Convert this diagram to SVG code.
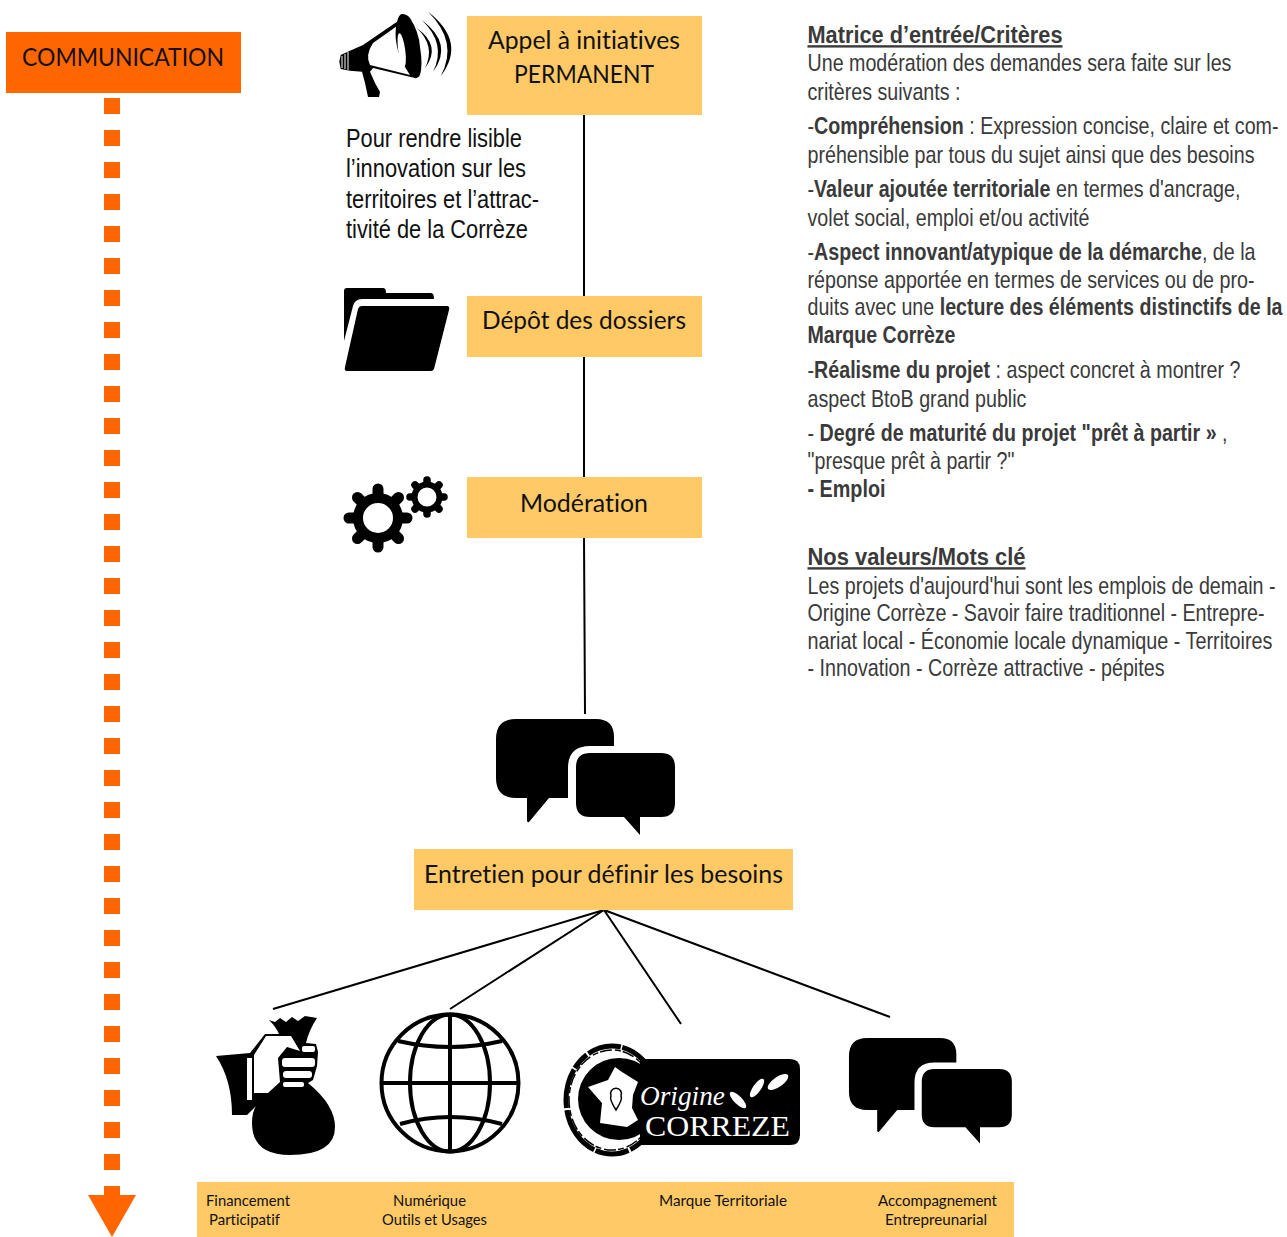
<svg xmlns="http://www.w3.org/2000/svg" width="1287" height="1237" viewBox="0 0 1287 1237">
<style>
.box{fill:#FFC966}
.lbl{font-family:Lato,"Open Sans",sans-serif;font-size:24.500px;fill:#111;font-variant-ligatures:none}
.sm{font-family:Lato,"Open Sans",sans-serif;font-size:15px;fill:#111;font-variant-ligatures:none}
.r{font-family:"Liberation Sans",Arial,sans-serif;font-size:24px;fill:#3a3a3a}
.h{font-weight:700;text-decoration:underline}
.l{font-family:"Liberation Sans",Arial,sans-serif;font-size:26px;fill:#111}
.c{stroke:#000;stroke-width:2;fill:none}
.b{font-weight:700}
</style>
<defs>
<g id="chat">
<path d="M516,719H596Q614,719 614,737V746H590Q568,746 568,768V798H549L529,822Q527,823 527,820V798H516Q496,798 496,778V739Q496,719 516,719Z"/>
<path d="M590,753H661Q675,753 675,767V803Q675,817 661,817H640V835L624,817H590Q576,817 576,803V767Q576,753 590,753Z"/>
</g>
</defs>
<rect width="1287" height="1237" fill="#fff"/>

<g id="connectors">
<path class="c" d="M584,115V296M584,357V477M584,538L585,714"/>
<path class="c" d="M604,910L273,1009M604,910L450,1009M604,910L681,1024M604,910L890,1017"/>
<path d="M112,98V1195" stroke="#FF6600" stroke-width="16" stroke-dasharray="16 16" fill="none"/>
<path d="M88,1195H136L112,1237Z" fill="#FF6600"/>
</g>

<g id="communication">
<rect x="6" y="32" width="235" height="61" fill="#FF6600"/>
<text class="lbl" x="22" y="66" textLength="202" lengthAdjust="spacingAndGlyphs">COMMUNICATION</text>
</g>

<g id="appel">
<rect class="box" x="467" y="16" width="235" height="99"/>
<text class="lbl" x="488" y="49" textLength="192" lengthAdjust="spacingAndGlyphs">Appel à initiatives</text>
<text class="lbl" x="514" y="83" textLength="140" lengthAdjust="spacingAndGlyphs">PERMANENT</text>
</g>

<g id="megaphone">
<path d="M339.300,61.700L340.700,55L350,50.700L363,45L397,21.700Q399,14 402,14Q407,14 410,18Q419,32 420,47Q423,65 420,75Q418,79 415,78L373,68L370,71.700L375,83L380,92L379,97H368L365,83L362,71.700L350,70.700L340.700,69Z"/>
<path d="M373,43L396,26.700Q393,50 410,75L370,65Q365,55 373,43Z" fill="#fff"/>
<ellipse cx="401.700" cy="50" rx="3.500" ry="17" transform="rotate(-8 401.700 50)" fill="#fff"/>
<path d="M342,56V68M345,54V69M348,52V70" stroke="#fff" stroke-width="1" fill="none"/>
<path d="M416.700,28Q442,46 425,68Q436,46 416.700,28ZM421.700,20Q454,44 433,71.700Q447,44 421.700,20ZM428,11.700Q467,42 440.700,76Q459,42 428,11.700Z"/>
</g>

<g id="intro">
<text class="l" x="346" y="147" textLength="176" lengthAdjust="spacingAndGlyphs">Pour rendre lisible</text>
<text class="l" x="346" y="177" textLength="180" lengthAdjust="spacingAndGlyphs">l’innovation sur les</text>
<text class="l" x="346" y="208" textLength="193" lengthAdjust="spacingAndGlyphs">territoires et l’attrac-</text>
<text class="l" x="346" y="238" textLength="182" lengthAdjust="spacingAndGlyphs">tivité de la Corrèze</text>
</g>

<g id="depot">
<rect class="box" x="467" y="296" width="235" height="61"/>
<text class="lbl" x="482" y="329" textLength="204" lengthAdjust="spacingAndGlyphs">Dépôt des dossiers</text>
<path d="M347,288H383Q386,288 386,293H431Q434,293 434,299H362Q355,299 353,306L344,341V291Q344,288 347,288Z"/>
<path d="M362,306H447Q450,306 449,310L434,369Q433,371 431,371H347Q344,371 345,367L358,309Q359,306 362,306Z"/>
</g>

<g id="moderation">
<rect class="box" x="467" y="477" width="235" height="61"/>
<text class="lbl" x="520" y="512" textLength="128" lengthAdjust="spacingAndGlyphs">Modération</text>
<g stroke="#000" stroke-linecap="round" fill="none">
<path stroke-width="11" d="M378,489V547M349,518H407M357.500,497.500L398.500,538.500M398.500,497.500L357.500,538.500"/>
<path stroke-width="7.500" d="M427,480V514M410,497H444M415,485L439,509M439,485L415,509"/>
</g>
<circle cx="378" cy="518" r="20" fill="#fff" stroke="#000" stroke-width="10"/>
<circle cx="427" cy="497" r="12.500" fill="#fff" stroke="#000" stroke-width="6"/>
</g>

<g id="chat-main"><use href="#chat"/></g>

<g id="entretien">
<rect class="box" x="414" y="849" width="379" height="61"/>
<text class="lbl" x="424" y="883" textLength="359" lengthAdjust="spacingAndGlyphs">Entretien pour définir les besoins</text>
</g>

<g id="moneybag">
<path d="M216,1056L250,1053L265,1034L279,1034Q276,1027 269,1020L275,1022L280,1018L286,1022L292,1017L298,1021L305,1016L317,1018Q309,1030 306,1043L316,1044L318,1052L317,1066L313,1080L308,1083Q335,1105 335,1127Q335,1155 290,1155Q252,1155 252,1123Q252,1112 256,1106L247,1115H232Q232,1080 216,1056Z"/>
<path d="M254,1055L266,1036H291L300,1051L287,1047L278,1058L280,1082L268,1093H254Z" fill="#fff"/>
<rect x="247" y="1058" width="5" height="42" fill="#fff"/>
<g fill="#fff">
<rect x="302" y="1046" width="13" height="6" rx="2"/>
<rect x="282" y="1058" width="33" height="9" rx="3"/>
<rect x="283" y="1071" width="29" height="7" rx="3"/>
<rect x="283" y="1082" width="21" height="5" rx="2"/>
</g>
</g>

<g id="globe" fill="none" stroke="#000" stroke-width="4">
<circle cx="450" cy="1083" r="68.500"/>
<ellipse cx="450" cy="1083" rx="40" ry="68.500"/>
<path d="M450,1014V1152M381,1083H519"/>
<path d="M398,1041Q450,1053 502,1041M400,1124Q450,1110 502,1124"/>
</g>

<g id="origine">
<ellipse cx="612" cy="1100" rx="46" ry="54" fill="none" stroke="#000" stroke-width="5" stroke-dasharray="40 1.500 18 2 34 1.500 50 2"/>
<ellipse cx="612" cy="1100" rx="43" ry="50" fill="none" stroke="#000" stroke-width="1.500" stroke-dasharray="12 3 6 2"/>
<circle cx="619" cy="1099" r="41"/>
<path d="M640,1059H790Q800,1059 800,1069V1135Q800,1145 790,1145H640Z"/>
<path d="M615,1067L622,1072L638,1082L633,1095L632,1108L638,1120L627,1127L600,1123L602,1103L588,1087L608,1080Z" fill="#fff"/>
<path d="M616,1110Q609,1099 611,1096A5.500,5.500 0 1 1 621,1096Q623,1099 616,1110Z" fill="none" stroke="#000" stroke-width="1.500"/>
<g fill="#fff">
<ellipse cx="757" cy="1088" rx="11" ry="4" transform="rotate(-55 757 1088)"/>
<ellipse cx="778" cy="1082" rx="12" ry="5" transform="rotate(-35 778 1082)"/>
<ellipse cx="738" cy="1100" rx="11" ry="4" transform="rotate(45 738 1100)"/>
</g>
<text x="640" y="1105" font-family="'Liberation Serif',serif" font-style="italic" font-size="27" fill="#fff" textLength="85" lengthAdjust="spacingAndGlyphs">Origine</text>
<text x="645" y="1136" font-family="'Liberation Serif',serif" font-size="30" fill="#fff" textLength="145" lengthAdjust="spacingAndGlyphs">CORREZE</text>
</g>

<g id="chat-small"><use href="#chat" transform="translate(397.600,383.700) scale(.91)"/></g>

<g id="bottom-band">
<rect class="box" x="197" y="1182" width="817" height="55"/>
<text class="sm" x="206" y="1206" textLength="84" lengthAdjust="spacingAndGlyphs">Financement</text>
<text class="sm" x="209" y="1225" textLength="71" lengthAdjust="spacingAndGlyphs">Participatif</text>
<text class="sm" x="393" y="1206" textLength="73" lengthAdjust="spacingAndGlyphs">Numérique</text>
<text class="sm" x="382" y="1225" textLength="105" lengthAdjust="spacingAndGlyphs">Outils et Usages</text>
<text class="sm" x="659" y="1206" textLength="128" lengthAdjust="spacingAndGlyphs">Marque Territoriale</text>
<text class="sm" x="878" y="1206" textLength="119" lengthAdjust="spacingAndGlyphs">Accompagnement</text>
<text class="sm" x="885" y="1225" textLength="102" lengthAdjust="spacingAndGlyphs">Entrepreunarial</text>
</g>

<g id="criteres" transform="translate(807.500,0) scale(.82,1)">
<text class="r h" x="0" y="43" textLength="311" lengthAdjust="spacingAndGlyphs">Matrice d’entrée/Critères</text>
<text class="r" x="0" y="71" textLength="517" lengthAdjust="spacingAndGlyphs">Une modération des demandes sera faite sur les</text>
<text class="r" x="0" y="100" textLength="186.600" lengthAdjust="spacingAndGlyphs">critères suivants :</text>
<text class="r" x="0" y="134" textLength="574.400" lengthAdjust="spacingAndGlyphs">-<tspan class="b">Compréhension</tspan> : Expression concise, claire et com-</text>
<text class="r" x="0" y="163" textLength="545.100" lengthAdjust="spacingAndGlyphs">préhensible par tous du sujet ainsi que des besoins</text>
<text class="r" x="0" y="197" textLength="528" lengthAdjust="spacingAndGlyphs">-<tspan class="b">Valeur ajoutée territoriale</tspan> en termes d'ancrage,</text>
<text class="r" x="0" y="226" textLength="343.900" lengthAdjust="spacingAndGlyphs">volet social, emploi et/ou activité</text>
<text class="r" x="0" y="260" textLength="546.300" lengthAdjust="spacingAndGlyphs">-<tspan class="b">Aspect innovant/atypique de la démarche</tspan>, de la</text>
<text class="r" x="0" y="288" textLength="545.100" lengthAdjust="spacingAndGlyphs">réponse apportée en termes de services ou de pro-</text>
<text class="r" x="0" y="315" textLength="579.300" lengthAdjust="spacingAndGlyphs">duits avec une <tspan class="b">lecture des éléments distinctifs de la</tspan></text>
<text class="r b" x="0" y="343" textLength="180.500" lengthAdjust="spacingAndGlyphs">Marque Corrèze</text>
<text class="r" x="0" y="378" textLength="528" lengthAdjust="spacingAndGlyphs">-<tspan class="b">Réalisme du projet</tspan> : aspect concret à montrer ?</text>
<text class="r" x="0" y="407" textLength="267" lengthAdjust="spacingAndGlyphs">aspect BtoB grand public</text>
<text class="r" x="0" y="441" textLength="512.200" lengthAdjust="spacingAndGlyphs">- <tspan class="b">Degré de maturité du projet "prêt à partir »</tspan> ,</text>
<text class="r" x="0" y="469" textLength="252.400" lengthAdjust="spacingAndGlyphs">"presque prêt à partir ?"</text>
<text class="r b" x="0" y="497" textLength="95.100" lengthAdjust="spacingAndGlyphs">- Emploi</text>
</g>

<g id="valeurs" transform="translate(807.500,0) scale(.82,1)">
<text class="r h" x="0" y="565" textLength="265.900" lengthAdjust="spacingAndGlyphs">Nos valeurs/Mots clé</text>
<text class="r" x="0" y="594" textLength="570.700" lengthAdjust="spacingAndGlyphs">Les projets d'aujourd'hui sont les emplois de demain -</text>
<text class="r" x="0" y="621" textLength="557.300" lengthAdjust="spacingAndGlyphs">Origine Corrèze - Savoir faire traditionnel - Entrepre-</text>
<text class="r" x="0" y="649" textLength="567" lengthAdjust="spacingAndGlyphs">nariat local - Économie locale dynamique - Territoires</text>
<text class="r" x="0" y="676" textLength="435.400" lengthAdjust="spacingAndGlyphs">- Innovation - Corrèze attractive - pépites</text>
</g>
</svg>
